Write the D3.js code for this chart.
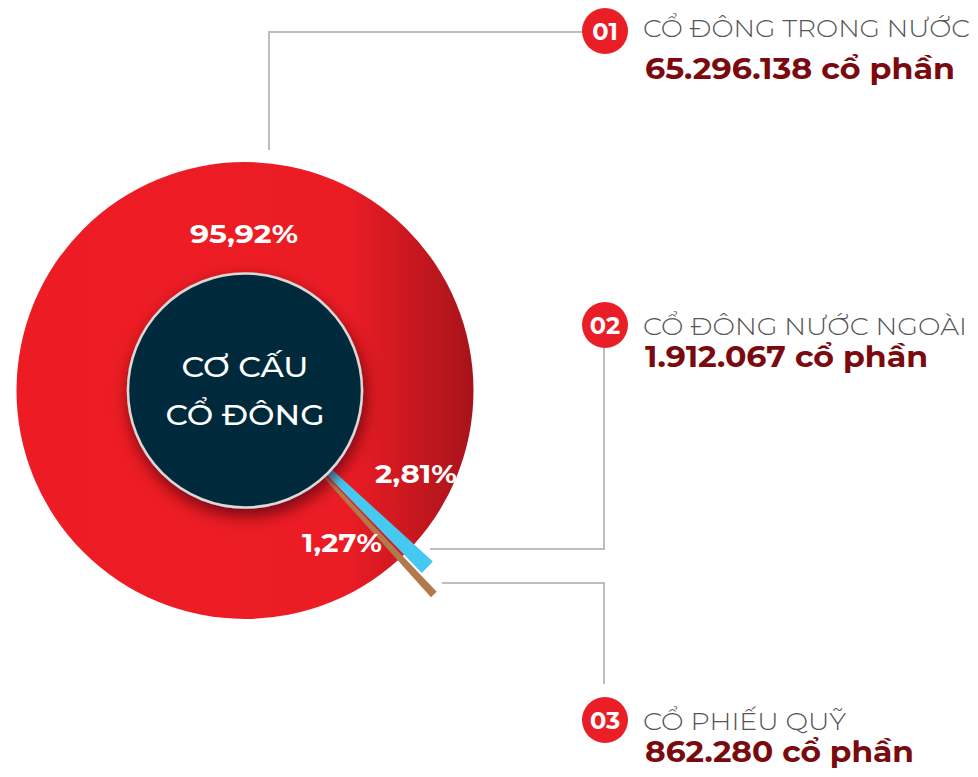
<!DOCTYPE html>
<html>
<head>
<meta charset="utf-8">
<script src="https://cdn.jsdelivr.net/npm/d3@7"></script>
<style>
  html, body { margin: 0; padding: 0; background: #fff; }
  svg text { font-family: "Montserrat", "Open Sans", "Noto Sans", sans-serif; }
</style>
</head>
<body>
<div id="chart"></div>
<script>
// data
var badgeLabels = ['01', '02', '03'];
var shareNames = ['CỔ ĐÔNG TRONG NƯỚC', 'CỔ ĐÔNG NƯỚC NGOÀI', 'CỔ PHIẾU QUỸ'];
var shareCounts = ['65.296.138', '1.912.067', '862.280'];
var sharePct = [95.92, 2.81, 1.27];
var pctLabels = ['95,92%', '2,81%', '1,27%'];
var centerTitle = ['CƠ CẤU', 'CỔ ĐÔNG'];

var width = 978, height = 777;
var cx = 245, cy = 390.5;
var outerR = 228.5, innerR = 117;
var sliceColors = ['url(#redGrad)', '#46c9f1', '#b27a4c'];
var sliceOuter = [outerR, 254, 278];

var svg = d3.select('#chart')
  .append('svg')
    .attr('width', width)
    .attr('height', height);

var defs = svg.append('defs');
var grad = defs.append('linearGradient')
    .attr('id', 'redGrad')
    .attr('x1', 0).attr('x2', 1).attr('y1', 0).attr('y2', 0);
grad.append('stop').attr('offset', 0).attr('stop-color', '#ed1c24');
grad.append('stop').attr('offset', 0.72).attr('stop-color', '#ec1c25');
grad.append('stop').attr('offset', 1).attr('stop-color', '#a8131b');

var shadow = defs.append('filter')
    .attr('id', 'innerShadow')
    .attr('x', '-30%').attr('y', '-30%')
    .attr('width', '160%').attr('height', '160%');
shadow.append('feDropShadow')
    .attr('dx', 2).attr('dy', 7)
    .attr('stdDeviation', 8)
    .attr('flood-color', '#4a0508')
    .attr('flood-opacity', 0.75);

var pie = svg.append('g')
    .attr('transform', 'translate(' + cx + ',' + cy + ')');

// big slice is the whole disc under the two thin slices
pie.append('path')
    .attr('d', d3.arc()({innerRadius: 0, outerRadius: outerR, startAngle: 0, endAngle: 2 * Math.PI}))
    .attr('fill', sliceColors[0]);

// thin slices: angular sweep proportional to share
var deg = Math.PI / 180;
var sweep = d3.scaleLinear().domain([0, 100]).range([0, 128 * deg]);
var gaps = [0, 0, 0.5 * deg];
var start = 132.3 * deg;
var small = [];
for (var i = 1; i < sharePct.length; i++) {
  start += gaps[i];
  small.push({i: i, startAngle: start, endAngle: start + sweep(sharePct[i])});
  start += sweep(sharePct[i]);
}

pie.selectAll('path.small')
  .data(small)
  .enter().append('path')
    .attr('class', 'small')
    .attr('d', function(d) {
      return d3.arc()({innerRadius: 100, outerRadius: sliceOuter[d.i],
                       startAngle: d.startAngle, endAngle: d.endAngle});
    })
    .attr('fill', function(d) { return sliceColors[d.i]; });

// centre circle
pie.append('circle')
    .attr('r', innerR)
    .attr('fill', '#052b3a')
    .attr('stroke', '#d9d9d9')
    .attr('stroke-width', 2.5)
    .attr('filter', 'url(#innerShadow)');

var titleY = [-14, 34];
var titleW = [127, 159];
pie.selectAll('text.title')
  .data(centerTitle)
  .enter().append('text')
    .attr('class', 'title')
    .attr('x', 0)
    .attr('y', function(d, i) { return titleY[i]; })
    .attr('text-anchor', 'middle')
    .attr('fill', '#fff')
    .attr('font-size', 28)
    .attr('font-weight', 500)
    .attr('textLength', function(d, i) { return titleW[i]; })
    .attr('lengthAdjust', 'spacingAndGlyphs')
    .text(function(d) { return d; });

// percentage labels
var pctPos = [[-1, -147.5], [171, 92.5], [97, 161.5]];
var pctW = [108, 82, 80];
pie.selectAll('text.pct')
  .data(pctLabels)
  .enter().append('text')
    .attr('class', 'pct')
    .attr('x', function(d, i) { return pctPos[i][0]; })
    .attr('y', function(d, i) { return pctPos[i][1]; })
    .attr('text-anchor', 'middle')
    .attr('fill', '#fff')
    .attr('font-size', 26)
    .attr('font-weight', 700)
    .attr('textLength', function(d, i) { return pctW[i]; })
    .attr('lengthAdjust', 'spacingAndGlyphs')
    .text(function(d) { return d; });

// leader lines
var leaders = [
  [[269, 150], [269, 32], [584, 32]],
  [[430, 549], [604, 549], [604, 348]],
  [[442, 583], [604, 583], [604, 684]]
];
svg.selectAll('path.leader')
  .data(leaders)
  .enter().append('path')
    .attr('class', 'leader')
    .attr('d', d3.line())
    .attr('fill', 'none')
    .attr('stroke', '#bdbdbd')
    .attr('stroke-width', 2);

// legend
var legY = [31, 325, 720];
var nameW = [327, 324, 203];
var valW = [310, 283, 269];
var leg = svg.selectAll('g.leg')
  .data(shareNames)
  .enter().append('g')
    .attr('class', 'leg')
    .attr('transform', function(d, i) { return 'translate(605,' + legY[i] + ')'; });

leg.append('circle')
    .attr('r', 23)
    .attr('fill', '#e91e27');

leg.append('text')
    .attr('y', 8.5)
    .attr('text-anchor', 'middle')
    .attr('fill', '#fff')
    .attr('font-size', 24)
    .attr('font-weight', 700)
    .text(function(d, i) { return badgeLabels[i]; });

leg.append('text')
    .attr('x', 38)
    .attr('y', function(d, i) { return i === 0 ? 6 : 10; })
    .attr('fill', '#555')
    .attr('font-size', 24)
    .attr('font-weight', 300)
    .attr('textLength', function(d, i) { return nameW[i]; })
    .attr('lengthAdjust', 'spacingAndGlyphs')
    .text(function(d) { return d; });

leg.append('text')
    .attr('x', 40)
    .attr('y', function(d, i) { return i === 0 ? 48 : 42; })
    .attr('fill', '#7a0a0d')
    .attr('font-size', 29)
    .attr('font-weight', 700)
    .attr('textLength', function(d, i) { return valW[i]; })
    .attr('lengthAdjust', 'spacingAndGlyphs')
    .text(function(d, i) { return shareCounts[i] + ' cổ phần'; });
</script>
</body>
</html>
